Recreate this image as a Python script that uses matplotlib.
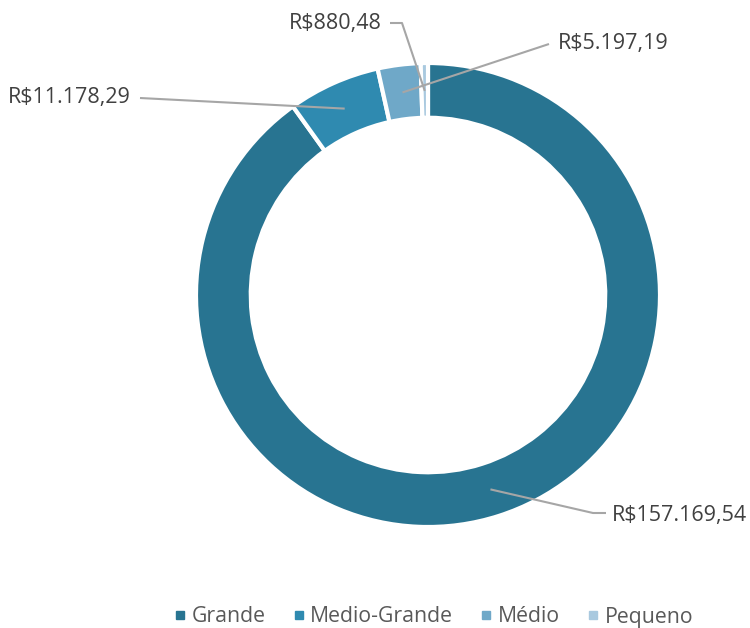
import numpy as np
import matplotlib.pyplot as plt
from matplotlib.lines import Line2D

plt.rcParams['font.family'] = ['Open Sans', 'DejaVu Sans']

# Data
categories = ["Grande", "Medio-Grande", "Médio", "Pequeno"]
values = [157169.54, 11178.29, 5197.19, 880.48]
value_labels = ["R$157.169,54", "R$11.178,29", "R$5.197,19", "R$880,48"]
colors = ["#287491", "#2F8AB0", "#6FA8C8", "#A9C9DF"]

W, H = 750, 628
fig = plt.figure(figsize=(W / 100, H / 100), dpi=100)

# donut: centre (428, 295) px from top, radius 232 px
cx, cy, R = 428, 295, 232
ax = fig.add_axes([(cx - R) / W, (H - cy - R) / H, 2 * R / W, 2 * R / H])
wedges, _ = ax.pie(values, colors=colors, startangle=90, counterclock=False,
                   radius=1.0, wedgeprops=dict(width=0.236, edgecolor="white", linewidth=3))
ax.set_xlim(-1, 1)
ax.set_ylim(-1, 1)
ax.set_aspect("equal")
ax.axis("off")

# anchor points at wedge mid-angles
fracs = np.array(values) / np.sum(values)
ends = 90 - 360 * np.cumsum(fracs)
mids = ends + 360 * fracs / 2
anchors = []
for a in mids:
    x, y = 0.88 * np.cos(np.radians(a)), 0.88 * np.sin(np.radians(a))
    px, py = ax.transData.transform((x, y))
    anchors.append((px, py))

# label text positions (pixels from top-left), path elbows
def fp(x, y):
    return (x, H - y)

line_kw = dict(color="#A6A6A6", lw=1.5, transform=None, solid_capstyle="butt")
text_kw = dict(color="#404040", fontsize=15.5, va="center")

# Grande
pts = [anchors[0], fp(593, 513), fp(606, 513)]
fig.add_artist(Line2D([p[0] for p in pts], [p[1] for p in pts], **line_kw))
fig.text(612 / W, 1 - 515 / H, value_labels[0], ha="left", **text_kw)

# Medio-Grande
pts = [anchors[1], fp(140, 98)]
fig.add_artist(Line2D([p[0] for p in pts], [p[1] for p in pts], **line_kw))
fig.text(131 / W, 1 - 98 / H, value_labels[1], ha="right", **text_kw)

# Médio
pts = [anchors[2], fp(549, 44)]
fig.add_artist(Line2D([p[0] for p in pts], [p[1] for p in pts], **line_kw))
fig.text(558 / W, 1 - 44 / H, value_labels[2], ha="left", **text_kw)

# Pequeno
pts = [anchors[3], fp(402, 23), fp(390, 23)]
fig.add_artist(Line2D([p[0] for p in pts], [p[1] for p in pts], **line_kw))
fig.text(382 / W, 1 - 24 / H, value_labels[3], ha="right", **text_kw)

# legend
handles = [Line2D([], [], marker="s", color=c, linestyle="none", markersize=6) for c in colors]
leg = fig.legend(handles, categories, loc="center", bbox_to_anchor=(433 / W, 1 - 617 / H),
                 ncol=4, frameon=False, fontsize=15.3, handlelength=0.7, handletextpad=0.2,
                 columnspacing=1.2, labelcolor="#595959")

fig.savefig("out.png", dpi=100, facecolor="white")
